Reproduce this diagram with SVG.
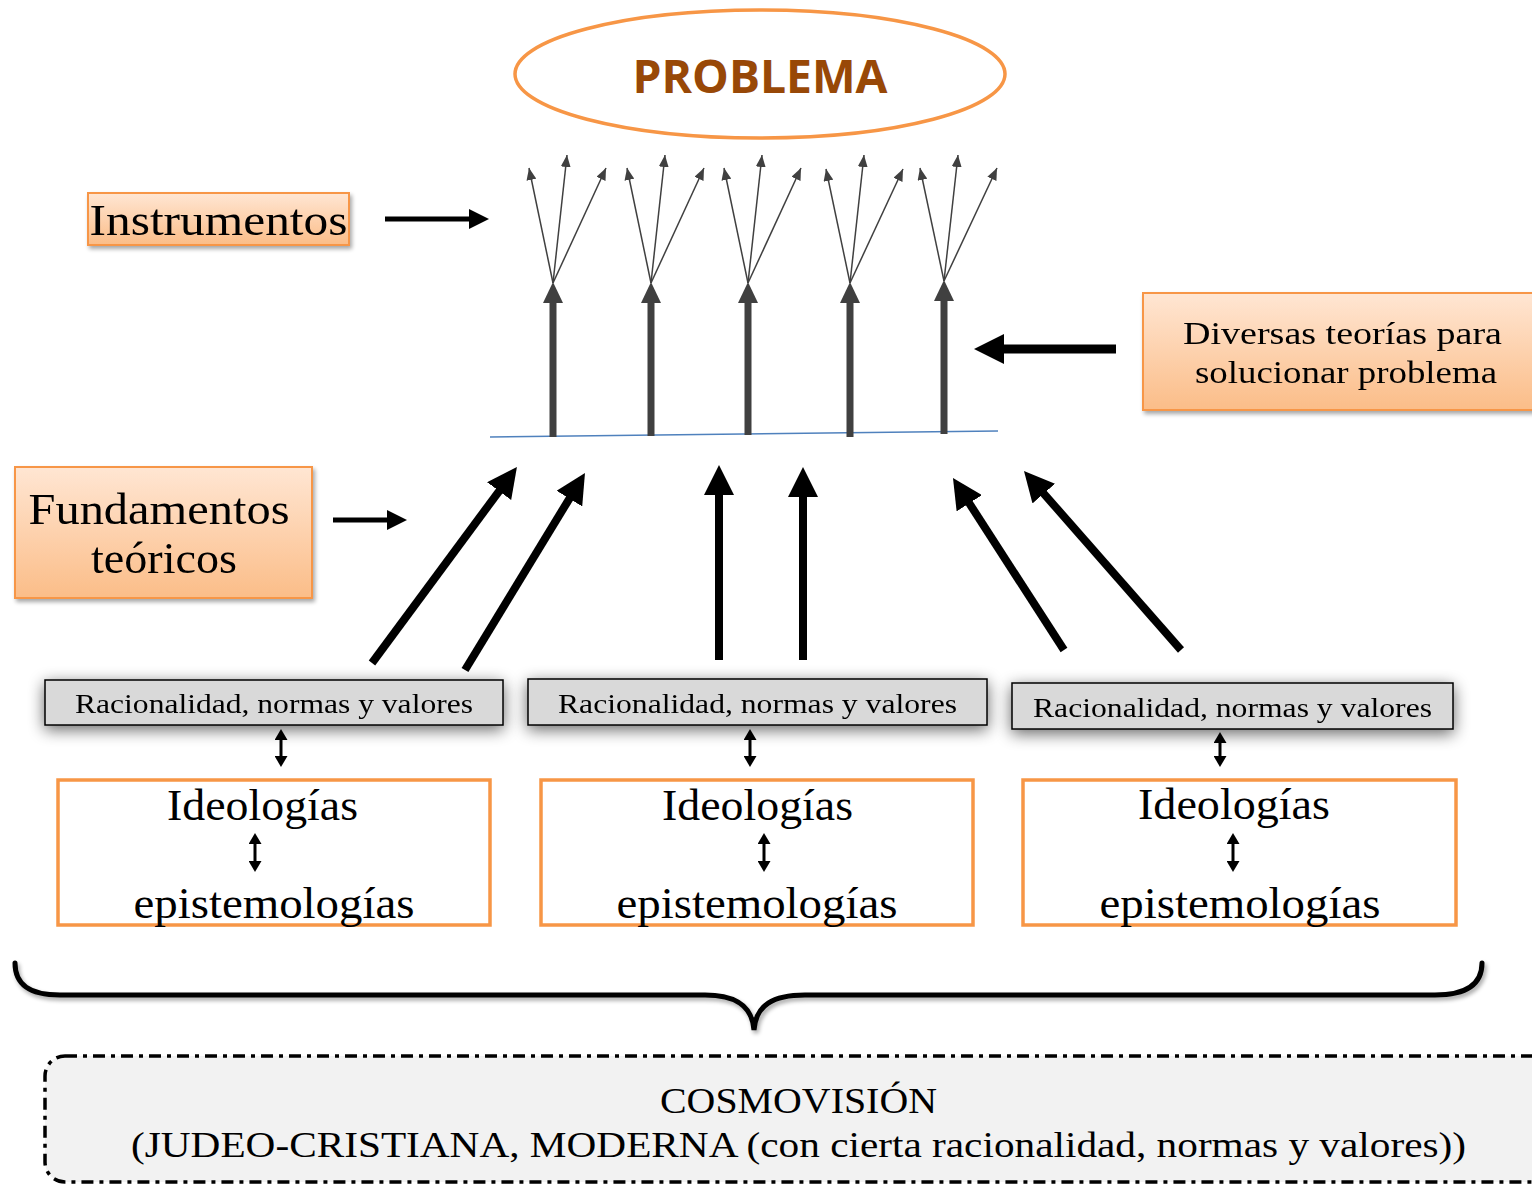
<svg xmlns="http://www.w3.org/2000/svg" width="1532" height="1186" viewBox="0 0 1532 1186">
<style>
.serif{font-family:"Liberation Serif","Times New Roman",serif;fill:#000}
.orange{fill:url(#og);stroke:#F79646;stroke-width:2}
.rac{fill:#D9D9D9;stroke:#000;stroke-width:1.5}
.ideo{fill:#fff;stroke:#F79646;stroke-width:3.5}
.big{stroke:#000;stroke-width:8;fill:none;marker-end:url(#hL)}
.med{stroke:#000;stroke-width:5;fill:none;marker-end:url(#hM)}
.vert{stroke:#404040;stroke-width:7;fill:none;marker-end:url(#hV)}
.thin{stroke:#404040;stroke-width:1.5;fill:none;marker-end:url(#hS)}
.dbl{stroke:#000;stroke-width:3;fill:none;marker-start:url(#hD);marker-end:url(#hD)}
</style>
<defs>
<linearGradient id="og" x1="0" y1="0" x2="0" y2="1">
<stop offset="0" stop-color="#FFE6D3"/>
<stop offset="1" stop-color="#FBBD88"/>
</linearGradient>
<filter id="sh" x="-10%" y="-20%" width="130%" height="150%">
<feGaussianBlur in="SourceAlpha" stdDeviation="2"/>
<feOffset dx="2" dy="3" result="b"/>
<feComponentTransfer><feFuncA type="linear" slope="0.35"/></feComponentTransfer>
<feMerge><feMergeNode/><feMergeNode in="SourceGraphic"/></feMerge>
</filter>
<filter id="glow" x="-10%" y="-80%" width="120%" height="260%">
<feGaussianBlur in="SourceAlpha" stdDeviation="8"/>
<feOffset dx="0" dy="4"/>
<feComponentTransfer><feFuncA type="linear" slope="0.6"/></feComponentTransfer>
<feMerge><feMergeNode/><feMergeNode in="SourceGraphic"/></feMerge>
</filter>
<marker id="hL" viewBox="0 0 30 30" refX="1" refY="15" markerWidth="30" markerHeight="30" markerUnits="userSpaceOnUse" orient="auto"><path d="M0,0 L30,15 L0,30 z" fill="#000"/></marker>
<marker id="hM" viewBox="0 0 20 20" refX="1" refY="10" markerWidth="20" markerHeight="20" markerUnits="userSpaceOnUse" orient="auto"><path d="M0,0 L20,10 L0,20 z" fill="#000"/></marker>
<marker id="hV" viewBox="0 0 21 20" refX="1" refY="10" markerWidth="21" markerHeight="20" markerUnits="userSpaceOnUse" orient="auto"><path d="M0,0 L21,10 L0,20 z" fill="#404040"/></marker>
<marker id="hS" viewBox="0 0 12 10" refX="12" refY="5" markerWidth="12" markerHeight="10" markerUnits="userSpaceOnUse" orient="auto"><path d="M0,0 L12,5 L0,10 z" fill="#404040"/></marker>
<marker id="hD" viewBox="0 0 11 13" refX="1" refY="6.5" markerWidth="11" markerHeight="13" markerUnits="userSpaceOnUse" orient="auto-start-reverse"><path d="M0,0 L11,6.5 L0,13 z" fill="#000"/></marker>
</defs>
<rect width="1532" height="1186" fill="#fff"/>

<g id="problema">
<ellipse cx="760" cy="74" rx="245" ry="64" fill="#fff" stroke="#F79646" stroke-width="3.5"/>
<text x="760" y="93" text-anchor="middle" font-family="'Open Sans','Noto Sans',sans-serif" font-weight="700" font-size="47" fill="#984807" textLength="255" lengthAdjust="spacingAndGlyphs">PROBLEMA</text>
</g>

<g id="instrumentos" filter="url(#sh)">
<rect class="orange" x="88" y="193" width="261" height="52"/>
<text class="serif" x="218.5" y="235" text-anchor="middle" font-size="45" textLength="258" lengthAdjust="spacingAndGlyphs">Instrumentos</text>
</g>

<g id="fundamentos" filter="url(#sh)">
<rect class="orange" x="15" y="467" width="297" height="131"/>
<text class="serif" x="159" y="524" text-anchor="middle" font-size="44" textLength="261" lengthAdjust="spacingAndGlyphs">Fundamentos</text>
<text class="serif" x="164" y="573" text-anchor="middle" font-size="44" textLength="146" lengthAdjust="spacingAndGlyphs">teóricos</text>
</g>

<g id="diversas" filter="url(#sh)">
<rect class="orange" x="1143" y="293" width="400" height="117"/>
<text class="serif" x="1342.5" y="344" text-anchor="middle" font-size="32" textLength="319" lengthAdjust="spacingAndGlyphs">Diversas teorías para</text>
<text class="serif" x="1346" y="383" text-anchor="middle" font-size="32" textLength="302" lengthAdjust="spacingAndGlyphs">solucionar problema</text>
</g>

<g id="racionalidad1" filter="url(#glow)">
<rect class="rac" x="45" y="680" width="458" height="45"/>
<text class="serif" x="274" y="713" text-anchor="middle" font-size="27" textLength="398" lengthAdjust="spacingAndGlyphs">Racionalidad, normas y valores</text>
</g>
<g id="racionalidad2" filter="url(#glow)">
<rect class="rac" x="528" y="679" width="459" height="46"/>
<text class="serif" x="757.5" y="713" text-anchor="middle" font-size="27" textLength="399" lengthAdjust="spacingAndGlyphs">Racionalidad, normas y valores</text>
</g>
<g id="racionalidad3" filter="url(#glow)">
<rect class="rac" x="1012" y="683" width="441" height="46"/>
<text class="serif" x="1232.5" y="717" text-anchor="middle" font-size="27" textLength="399" lengthAdjust="spacingAndGlyphs">Racionalidad, normas y valores</text>
</g>

<g id="ideologias1">
<rect class="ideo" x="58" y="780" width="432" height="145"/>
<text class="serif" x="262.5" y="820" text-anchor="middle" font-size="45" textLength="191" lengthAdjust="spacingAndGlyphs">Ideologías</text>
<line class="dbl" x1="255" y1="843" x2="255" y2="862"/>
<text class="serif" x="274" y="918" text-anchor="middle" font-size="45" textLength="281" lengthAdjust="spacingAndGlyphs">epistemologías</text>
</g>
<g id="ideologias2">
<rect class="ideo" x="541" y="780" width="432" height="145"/>
<text class="serif" x="757.5" y="820" text-anchor="middle" font-size="45" textLength="191" lengthAdjust="spacingAndGlyphs">Ideologías</text>
<line class="dbl" x1="764" y1="843" x2="764" y2="862"/>
<text class="serif" x="757" y="918" text-anchor="middle" font-size="45" textLength="281" lengthAdjust="spacingAndGlyphs">epistemologías</text>
</g>
<g id="ideologias3">
<rect class="ideo" x="1023" y="780" width="433" height="145"/>
<text class="serif" x="1234" y="819" text-anchor="middle" font-size="45" textLength="192" lengthAdjust="spacingAndGlyphs">Ideologías</text>
<line class="dbl" x1="1233" y1="843" x2="1233" y2="862"/>
<text class="serif" x="1240" y="918" text-anchor="middle" font-size="45" textLength="281" lengthAdjust="spacingAndGlyphs">epistemologías</text>
</g>

<g id="cosmovision">
<rect x="45" y="1056" width="1520" height="126" rx="20" ry="20" fill="#F2F2F2" stroke="#000" stroke-width="3.5" stroke-dasharray="12 6 4 6"/>
<text class="serif" x="798.5" y="1113" text-anchor="middle" font-size="36" textLength="277" lengthAdjust="spacingAndGlyphs">COSMOVISIÓN</text>
<text class="serif" x="798.5" y="1157" text-anchor="middle" font-size="36" textLength="1335" lengthAdjust="spacingAndGlyphs">(JUDEO-CRISTIANA, MODERNA (con cierta racionalidad, normas y valores))</text>
</g>

<g id="brace" filter="url(#sh)">
<path d="M15 963 C15 985 30 995 60 995 L705 995 C735 995 752 1005 754 1030 C756 1005 773 995 805 995 L1435 995 C1465 995 1482 985 1482 963" fill="none" stroke="#000" stroke-width="5" stroke-linecap="round"/>
</g>

<g id="connectors">
<line x1="490" y1="437" x2="998" y2="431" stroke="#4F81BD" stroke-width="1.5"/>
<line class="vert" x1="553" y1="437" x2="553" y2="302"/>
<line class="vert" x1="651" y1="436" x2="651" y2="302"/>
<line class="vert" x1="748" y1="435" x2="748" y2="302"/>
<line class="vert" x1="850" y1="437" x2="850" y2="302"/>
<line class="vert" x1="944" y1="434" x2="944" y2="300"/>

<line class="thin" x1="553" y1="283" x2="529" y2="168"/>
<line class="thin" x1="553" y1="283" x2="567" y2="155"/>
<line class="thin" x1="553" y1="283" x2="606" y2="168"/>
<line class="thin" x1="651" y1="283" x2="627" y2="168"/>
<line class="thin" x1="651" y1="283" x2="665" y2="155"/>
<line class="thin" x1="651" y1="283" x2="704" y2="168"/>
<line class="thin" x1="748" y1="283" x2="724" y2="168"/>
<line class="thin" x1="748" y1="283" x2="762" y2="155"/>
<line class="thin" x1="748" y1="283" x2="801" y2="168"/>
<line class="thin" x1="850" y1="283" x2="826" y2="169"/>
<line class="thin" x1="850" y1="283" x2="864" y2="155"/>
<line class="thin" x1="850" y1="283" x2="903" y2="169"/>
<line class="thin" x1="944" y1="281" x2="920" y2="168"/>
<line class="thin" x1="944" y1="281" x2="958" y2="155"/>
<line class="thin" x1="944" y1="281" x2="997" y2="168"/>

<line class="med" x1="385" y1="219" x2="470" y2="219"/>
<line class="med" x1="333" y1="520" x2="388" y2="520"/>
<line x1="1116" y1="349" x2="1003" y2="349" stroke="#000" stroke-width="9" marker-end="url(#hL)"/>

<line class="big" x1="372" y1="663" x2="499.7" y2="490.3"/>
<line class="big" x1="465" y1="670" x2="569.9" y2="497.8"/>
<line class="big" x1="719" y1="660" x2="719" y2="494"/>
<line class="big" x1="803" y1="660" x2="803" y2="496"/>
<line class="big" x1="1064" y1="650" x2="968.7" y2="502.4"/>
<line class="big" x1="1181" y1="650" x2="1043.1" y2="492.8"/>

<line class="dbl" x1="281" y1="739" x2="281" y2="757"/>
<line class="dbl" x1="750" y1="739" x2="750" y2="757"/>
<line class="dbl" x1="1220" y1="742" x2="1220" y2="757"/>
</g>
</svg>
